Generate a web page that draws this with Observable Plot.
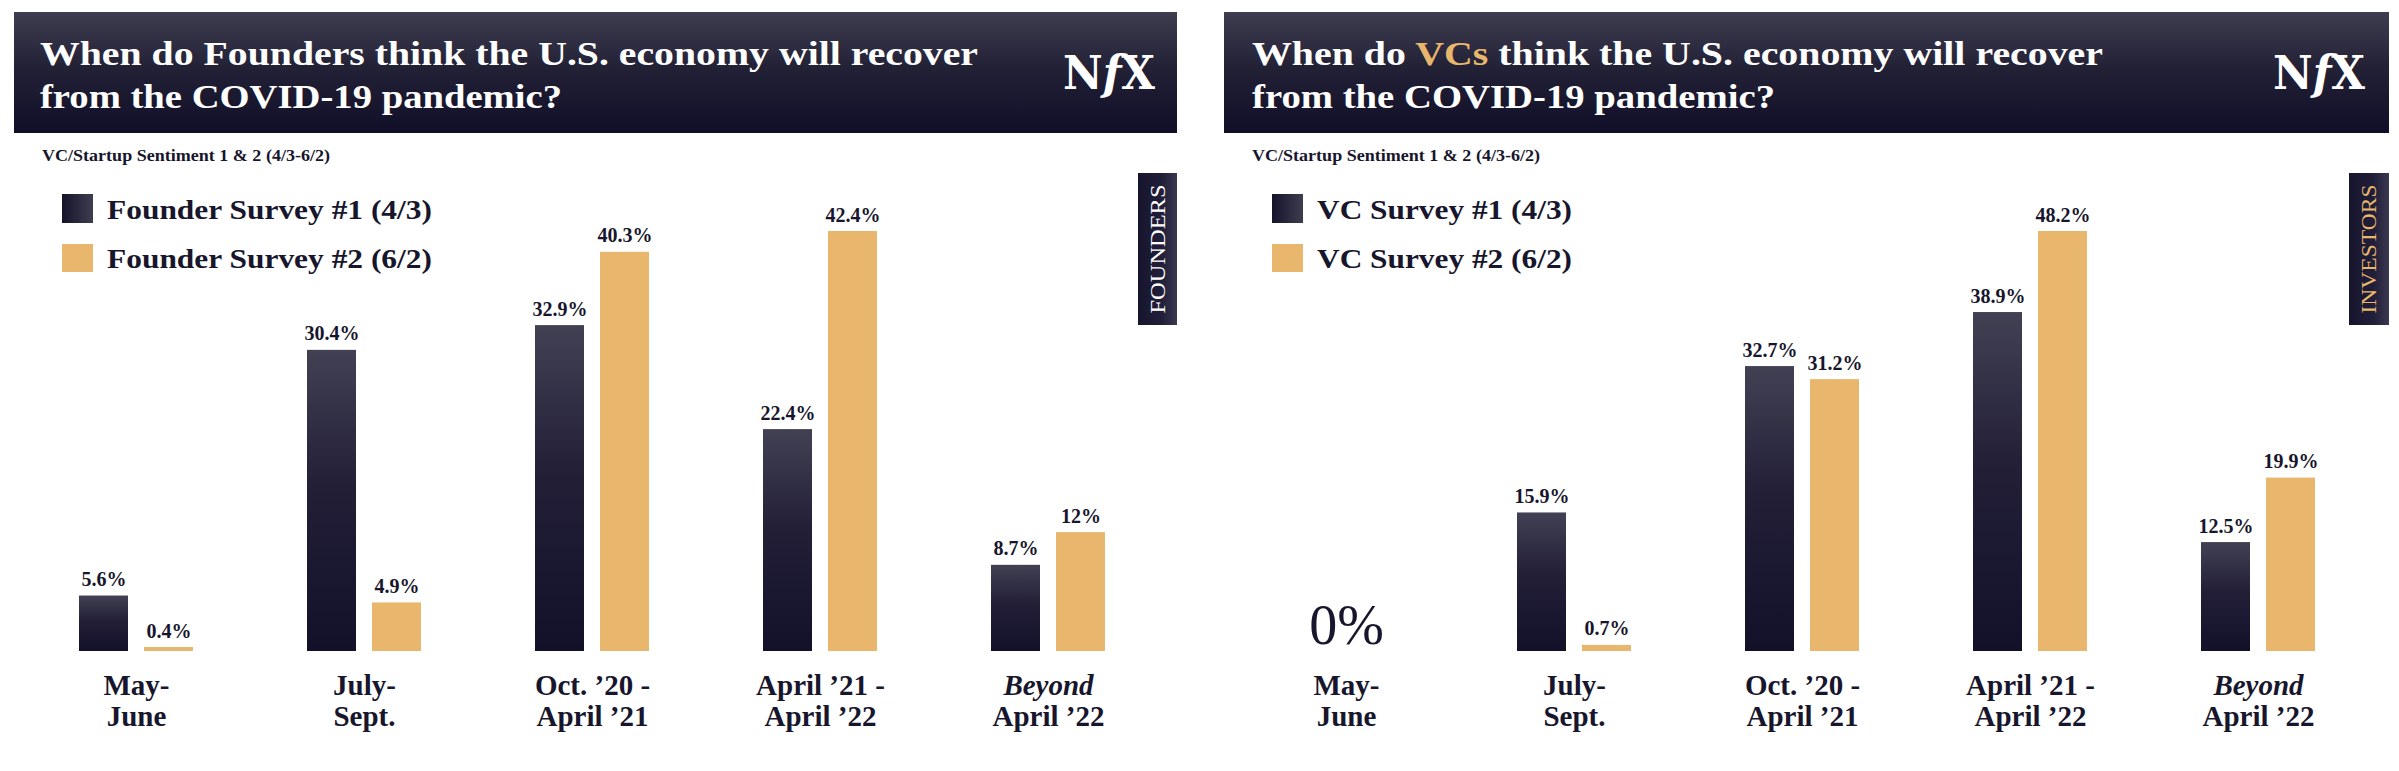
<!DOCTYPE html>
<html>
<head>
<meta charset="utf-8">
<script src="https://cdn.jsdelivr.net/npm/d3@7"></script>
<script src="https://cdn.jsdelivr.net/npm/@observablehq/plot@0.6"></script>
<style>
  html, body { margin: 0; padding: 0; background: #ffffff; }
  #root { position: relative; width: 2399px; height: 771px; overflow: hidden; background: #ffffff; }
  .plotbox { position: absolute; top: 171px; width: 1200px; height: 600px; }
  .plotbox svg { display: block; }
  #overlay { position: absolute; left: 0; top: 0; pointer-events: none; }
</style>
</head>
<body>
<div id="root"></div>
<script>
// ---------------- data ----------------
const periods = ["May-June", "July-Sept.", "Oct. ’20 - April ’21", "April ’21 - April ’22", "Beyond April ’22"];
const periodLine1 = ["May-", "July-", "Oct. ’20 -", "April ’21 -", "Beyond"];
const periodLine2 = ["June", "Sept.", "April ’21", "April ’22", "April ’22"];
const periodItalicLine1 = [false, false, false, false, true];

const founderSeries = ["Founder Survey #1 (4/3)", "Founder Survey #2 (6/2)"];
const founderSurvey1 = [5.6, 30.4, 32.9, 22.4, 8.7];
const founderSurvey2 = [0.4, 4.9, 40.3, 42.4, 12];

const vcSeries = ["VC Survey #1 (4/3)", "VC Survey #2 (6/2)"];
const vcSurvey1 = [0, 15.9, 32.7, 38.9, 12.5];
const vcSurvey2 = [0, 0.7, 31.2, 48.2, 19.9];

const founderTitle1 = [["When do ", false], ["Founders", false], [" think the U.S. economy will recover", false]];
const vcTitle1 = [["When do ", false], ["VCs", true], [" think the U.S. economy will recover", false]];
const titleLine2 = "from the COVID-19 pandemic?";
const subtitleText = "VC/Startup Sentiment 1 & 2 (4/3-6/2)";
const founderTag = "FOUNDERS";
const vcTag = "INVESTORS";

// ---------------- style ----------------
const NAVY = "#17162d";
const GOLD = "#e8b66c";
const SERIF = "Liberation Serif";

const panels = [
  { key: "f", offset: 0, series: founderSeries, values: [founderSurvey1, founderSurvey2],
    title1: founderTitle1, headerW: 1163, titleX: 40, title1Len: 938, title2Len: 522,
    legendLen: 325, tag: founderTag, tagColor: "#ffffff", tagX: 1138, tagW: 39 },
  { key: "v", offset: 1210, series: vcSeries, values: [vcSurvey1, vcSurvey2],
    title1: vcTitle1, headerW: 1165, titleX: 42, title1Len: 851, title2Len: 523,
    legendLen: 255, tag: vcTag, tagColor: GOLD, tagX: 1139, tagW: 40 }
];

const root = document.getElementById("root");
const NS = "http://www.w3.org/2000/svg";

// ---------------- charts ----------------
for (const cfg of panels) {
  const data = periods.flatMap((p, i) => cfg.values.map((vals, s) => ({
    period: p, series: cfg.series[s], s, value: vals[i],
    line1: periodLine1[i], line2: periodLine2[i], italic: periodItalicLine1[i],
    groupTotal: d3.sum(cfg.values, v => v[i])
  })));
  const maxV = d3.max(data, d => d.value);
  const gid = "barGrad_" + cfg.key;

  const chart = Plot.plot({
    width: 1200, height: 600,
    marginTop: 60, marginBottom: 120, marginLeft: 31, marginRight: 47,
    facet: { data, x: "period", marginTop: 0, marginBottom: 0, marginLeft: 0, marginRight: 0 },
    fx: { domain: periods, paddingInner: 0.492, paddingOuter: 0.2, axis: null, label: null },
    x: { domain: cfg.series, paddingInner: 0.242, paddingOuter: 0, axis: null, label: null },
    y: { domain: [0, maxV], axis: null, label: null },
    style: { background: "transparent", fontFamily: SERIF, color: NAVY, overflow: "visible" },
    marks: [
      Plot.barY(data, { filter: d => d.s === 0, x: "series", y: "value", fill: `url(#${gid})` }),
      Plot.barY(data, { filter: d => d.s === 1, x: "series", y: "value", fill: GOLD }),
      Plot.text(data, { filter: d => d.value > 0, x: "series", y: "value", text: d => d.value + "%",
        dy: -10, lineAnchor: "bottom", fontSize: 20, fontWeight: "bold", fill: NAVY }),
      Plot.text(data, { filter: d => d.s === 0 && d.groupTotal === 0, text: () => "0%",
        frameAnchor: "bottom", dy: -8, lineAnchor: "bottom", fontSize: 56, fill: NAVY }),
      Plot.text(data, { filter: d => d.s === 0 && !d.italic, text: "line1",
        frameAnchor: "bottom", dy: 43, lineAnchor: "bottom", fontSize: 29, fontWeight: "bold", fill: NAVY }),
      Plot.text(data, { filter: d => d.s === 0 && d.italic, text: "line1",
        frameAnchor: "bottom", dy: 43, lineAnchor: "bottom", fontSize: 29, fontWeight: "bold", fontStyle: "italic", fill: NAVY }),
      Plot.text(data, { filter: d => d.s === 0, text: "line2",
        frameAnchor: "bottom", dy: 74, lineAnchor: "bottom", fontSize: 29, fontWeight: "bold", fill: NAVY })
    ]
  });

  const defs = document.createElementNS(NS, "defs");
  defs.innerHTML = `<linearGradient id="${gid}" x1="0" y1="0" x2="0" y2="1">
      <stop offset="0" stop-color="#424154"/>
      <stop offset="0.45" stop-color="#221f37"/>
      <stop offset="1" stop-color="#13112a"/>
    </linearGradient>`;
  chart.insertBefore(defs, chart.firstChild);

  const box = document.createElement("div");
  box.className = "plotbox";
  box.style.left = cfg.offset + "px";
  box.appendChild(chart);
  root.appendChild(box);
}

// ---------------- headers, legends, tags ----------------
const ov = d3.select(root).append("svg")
  .attr("id", "overlay").attr("width", 2399).attr("height", 771);

const odefs = ov.append("defs");
const hg = odefs.append("linearGradient").attr("id", "hdrGrad").attr("x1", 0).attr("y1", 0).attr("x2", 0).attr("y2", 1);
hg.append("stop").attr("offset", 0).attr("stop-color", "#3f3e50");
hg.append("stop").attr("offset", 0.45).attr("stop-color", "#232136");
hg.append("stop").attr("offset", 1).attr("stop-color", "#110f28");
const sg = odefs.append("linearGradient").attr("id", "sqGrad").attr("x1", 0).attr("y1", 0).attr("x2", 1).attr("y2", 0);
sg.append("stop").attr("offset", 0).attr("stop-color", "#15132b");
sg.append("stop").attr("offset", 1).attr("stop-color", "#3e3d50");
const tg = odefs.append("linearGradient").attr("id", "tagGrad").attr("x1", 0).attr("y1", 0).attr("x2", 1).attr("y2", 0);
tg.append("stop").attr("offset", 0).attr("stop-color", "#17152e");
tg.append("stop").attr("offset", 0.6).attr("stop-color", "#201e38");
tg.append("stop").attr("offset", 1).attr("stop-color", "#3a3950");

for (const cfg of panels) {
  const g = ov.append("g").attr("transform", `translate(${cfg.offset},0)`);
  // header band
  g.append("rect").attr("x", 14).attr("y", 12).attr("width", cfg.headerW).attr("height", 121).attr("fill", "url(#hdrGrad)");
  const t1 = g.append("text").attr("x", cfg.titleX).attr("y", 65)
    .attr("font-family", SERIF).attr("font-weight", "bold").attr("font-size", 34).attr("fill", "#ffffff")
    .attr("textLength", cfg.title1Len).attr("lengthAdjust", "spacingAndGlyphs");
  for (const [part, hi] of cfg.title1) t1.append("tspan").attr("fill", hi ? GOLD : "#ffffff").text(part);
  g.append("text").attr("x", cfg.titleX).attr("y", 108)
    .attr("font-family", SERIF).attr("font-weight", "bold").attr("font-size", 34).attr("fill", "#ffffff")
    .attr("textLength", cfg.title2Len).attr("lengthAdjust", "spacingAndGlyphs").text(titleLine2);
  // logo
  const logo = g.append("text").attr("x", 1063).attr("y", 89)
    .attr("font-family", "DejaVu Serif").attr("font-weight", "bold").attr("font-size", 46).attr("fill", "#ffffff")
    .attr("textLength", 92).attr("lengthAdjust", "spacingAndGlyphs");
  logo.append("tspan").text("N");
  logo.append("tspan").attr("font-style", "italic").text("f");
  logo.append("tspan").text("X");
  // subtitle
  g.append("text").attr("x", 42).attr("y", 161)
    .attr("font-family", SERIF).attr("font-weight", "bold").attr("font-size", 17).attr("fill", NAVY)
    .attr("textLength", 288).attr("lengthAdjust", "spacingAndGlyphs").text(subtitleText);
  // legend
  const legendRows = [{ y: 194, h: 29, base: 219, fill: "url(#sqGrad)" }, { y: 244, h: 28, base: 268, fill: GOLD }];
  legendRows.forEach((r, i) => {
    g.append("rect").attr("x", 62).attr("y", r.y).attr("width", 31).attr("height", r.h).attr("fill", r.fill);
    g.append("text").attr("x", 107).attr("y", r.base)
      .attr("font-family", SERIF).attr("font-weight", "bold").attr("font-size", 28).attr("fill", NAVY)
      .attr("textLength", cfg.legendLen).attr("lengthAdjust", "spacingAndGlyphs").text(cfg.series[i]);
  });
  // side tag
  g.append("rect").attr("x", cfg.tagX).attr("y", 173).attr("width", cfg.tagW).attr("height", 152).attr("fill", "url(#tagGrad)");
  const cx = cfg.tagX + cfg.tagW / 2 + 7, cy = 249;
  g.append("text").attr("transform", `translate(${cx},${cy}) rotate(-90)`)
    .attr("text-anchor", "middle").attr("font-family", SERIF).attr("font-size", 21).attr("fill", cfg.tagColor)
    .attr("textLength", 129).attr("lengthAdjust", "spacingAndGlyphs").text(cfg.tag);
}
</script>
</body>
</html>
